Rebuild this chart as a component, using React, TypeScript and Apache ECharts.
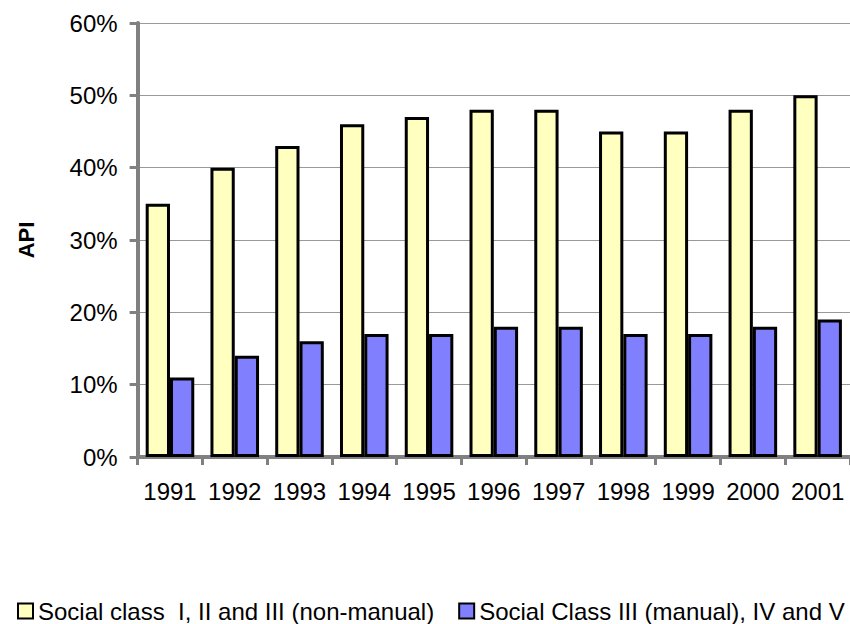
import React, { useEffect, useRef } from "react";
import * as echarts from "echarts";

const years = ["1991", "1992", "1993", "1994", "1995", "1996", "1997", "1998", "1999", "2000", "2001"];
const nonManual = [35, 40, 43, 46, 47, 48, 48, 45, 45, 48, 50];
const manual = [11, 14, 16, 17, 17, 18, 18, 17, 17, 18, 19];
const seriesNames = ["Social class  I, II and III (non-manual)", "Social Class III (manual), IV and V"];

const FONT = "'Liberation Sans', Arial, sans-serif";

export default function App() {
  const ref = useRef<HTMLDivElement>(null);
  useEffect(() => {
    if (!ref.current) return;
    const chart = echarts.init(ref.current, undefined, { renderer: "svg" });
    chart.setOption({
      animation: false,
      backgroundColor: "#ffffff",
      textStyle: { fontFamily: FONT },
      grid: { left: 137.6, top: 23, width: 720, height: 434, containLabel: false },
      legend: {
        left: 12,
        top: 594,
        itemWidth: 15,
        itemHeight: 15,
        itemGap: 24,
        icon: "rect",
        textStyle: { fontFamily: FONT, fontSize: 24, color: "#000" },
        data: seriesNames,
      },
      xAxis: {
        type: "category",
        data: years,
        axisLine: { lineStyle: { color: "#808080", width: 4 } },
        axisTick: { show: true, length: 8, interval: 0, lineStyle: { color: "#808080", width: 3 } },
        axisLabel: { fontFamily: FONT, fontSize: 24, color: "#000", margin: 22, interval: 0 },
      },
      yAxis: {
        type: "value",
        min: 0,
        max: 60,
        interval: 10,
        name: "API",
        nameLocation: "middle",
        nameGap: 100,
        nameTextStyle: { fontFamily: FONT, fontSize: 22, fontWeight: "bold", color: "#000" },
        axisLine: { show: true, lineStyle: { color: "#808080", width: 4 } },
        axisTick: { show: true, length: 8, lineStyle: { color: "#808080", width: 3 } },
        axisLabel: { fontFamily: FONT, fontSize: 24, color: "#000", margin: 20, formatter: "{value}%" },
        splitLine: { show: true, lineStyle: { color: "#999999", width: 1 } },
      },
      series: [
        {
          name: seriesNames[0],
          type: "bar",
          data: nonManual,
          barGap: "0%",
          barCategoryGap: "25%",
          itemStyle: { color: "#FFFFC0", borderColor: "#000", borderWidth: 3 },
        },
        {
          name: seriesNames[1],
          type: "bar",
          data: manual,
          barGap: "0%",
          barCategoryGap: "25%",
          itemStyle: { color: "#8080FF", borderColor: "#000", borderWidth: 3 },
        },
      ],
    });
    return () => chart.dispose();
  }, []);
  return (
    <div
      ref={ref}
      style={{ position: "fixed", left: 0, top: 0, width: 850, height: 624, background: "#fff" }}
    />
  );
}
